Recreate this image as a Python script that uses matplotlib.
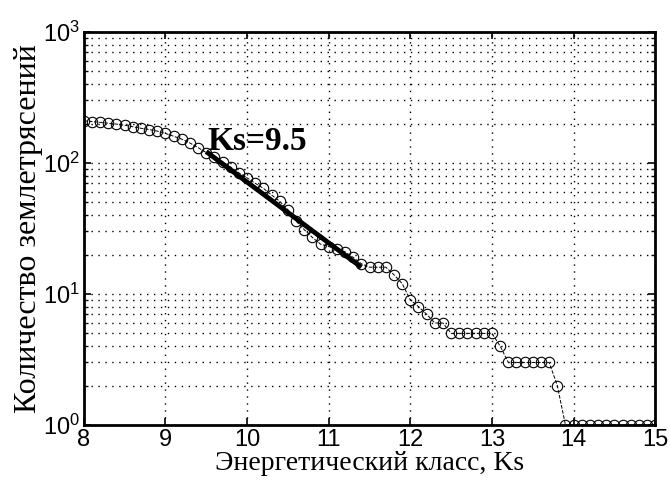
import numpy as np
import matplotlib
matplotlib.use("Agg")
import matplotlib.pyplot as plt
from matplotlib.ticker import LogLocator, NullFormatter, MultipleLocator

plt.rcParams['mathtext.fontset'] = 'custom'
plt.rcParams['mathtext.rm'] = 'Liberation Sans'

# energy class (0.1 step) and cumulative number of earthquakes
ks = np.round(np.arange(8.0, 15.01, 0.1), 1)
counts = [210, 207, 204, 201, 198, 194, 189, 184, 180, 175,
          168, 160, 152, 142, 131, 120, 111, 102, 93, 84,
          77, 70, 64, 57, 51, 44, 36, 31, 27, 24,
          23, 22, 21, 19, 17, 16, 16, 16, 14, 12,
          9, 8, 7, 6, 6, 5, 5, 5, 5, 5,
          5, 4, 3, 3, 3, 3, 3, 3, 2, 1,
          1, 1, 1, 1, 1, 1, 1, 1, 1, 1, 1]

# fitted segment from Ks=9.5
fit_x = [9.5, 11.4]
fit_y = [122, 16]

fig = plt.figure(figsize=(6.7, 4.84), dpi=100)
ax = fig.add_axes([0.125, 0.122, 0.853, 0.812])

ax.semilogy(ks, counts, linestyle='--', color='black', linewidth=0.7,
            marker='o', markersize=7.5, markerfacecolor='none',
            markeredgecolor='black', markeredgewidth=0.8)
ax.semilogy(fit_x, fit_y, color='black', linewidth=3.5, solid_capstyle='butt')

ax.text(9.52, 145, "Ks=9.5", family='Liberation Serif', fontweight='bold',
        fontsize=24, va='center', ha='left')

ax.set_xlim(8, 15)
ax.set_ylim(1, 1000)
ax.xaxis.set_major_locator(MultipleLocator(1))
ax.yaxis.set_major_locator(LogLocator(base=10))
ax.yaxis.set_minor_locator(LogLocator(base=10, subs=np.arange(2, 10)))
ax.yaxis.set_minor_formatter(NullFormatter())

dots = (0, (1, 4))
ax.grid(True, which='major', linestyle=dots, color='black', linewidth=1.0)
ax.grid(True, which='minor', axis='y', linestyle=dots, color='black', linewidth=1.0)

ax.tick_params(which='both', direction='in', top=True, right=True)
ax.tick_params(which='major', length=5, width=1.2, labelsize=17, pad=3)
ax.tick_params(which='minor', length=3, width=1.0)
for lab in ax.get_xticklabels() + ax.get_yticklabels():
    lab.set_family('Liberation Sans')

for s in ax.spines.values():
    s.set_linewidth(2)

ax.set_xlabel("Энергетический класс, Ks", family='Liberation Serif',
              fontsize=20, labelpad=0)
ax.set_ylabel("Количество землетрясений", family='Liberation Serif',
              fontsize=23, labelpad=0)

fig.savefig("out.png", dpi=100)
